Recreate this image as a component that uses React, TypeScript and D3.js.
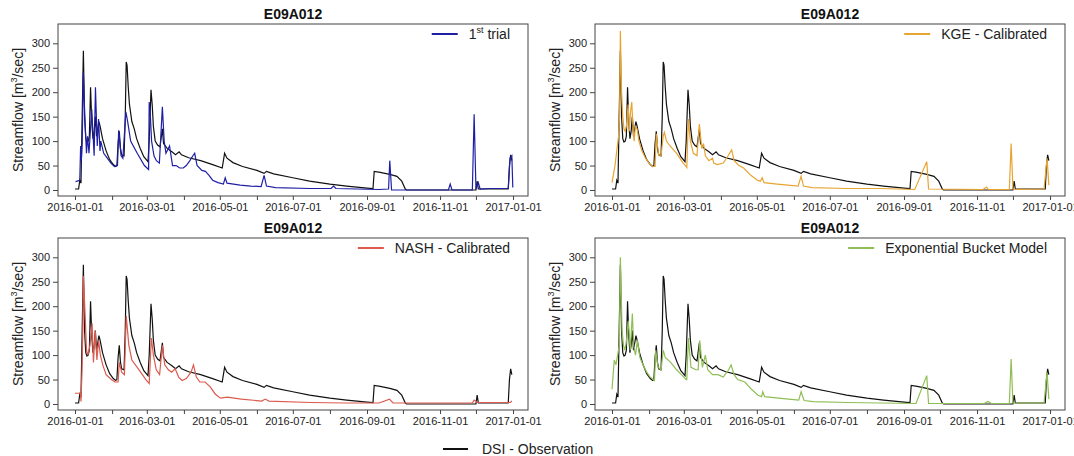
import React, { useEffect, useRef } from 'react';
import * as d3 from 'd3';

const width = 1074;
const height = 456;
const frame = { left: 58, top: 24, w: 470, h: 172 };
const colStep = 537;
const rowStep = 214;
const font = '"Liberation Sans", Arial, sans-serif';

// [days since 2016-01-01, streamflow m3/s]
const observation: [number, number][] = [
  [0, 2], [3, 2], [4, 20], [5, 14], [6, 150], [7, 285], [8, 150], [9, 105], [10, 98], [11, 100],
  [12, 110], [13, 210], [14, 140], [15, 105], [16, 120], [17, 150], [18, 110], [19, 125], [20, 140],
  [21, 130], [23, 105], [26, 80], [29, 62], [32, 52], [34, 48], [35, 50], [36, 95], [37, 120],
  [38, 85], [39, 72], [41, 70], [42, 150], [42.8, 262], [43.5, 255], [44.5, 210], [45.5, 175],
  [47.5, 140], [49.5, 125], [51.5, 105], [54.5, 85], [57.5, 68], [61, 58], [62, 100], [63.5, 205],
  [64.5, 175], [65.5, 130], [67, 100], [69, 92], [71, 88], [73, 125], [74, 95], [77, 85], [81, 78],
  [84, 72], [87, 78], [89, 72], [95, 66], [105, 60], [115, 52], [123, 45], [125, 75], [127, 65],
  [132, 56], [140, 48], [152, 40], [158, 34], [160, 38], [166, 33], [182, 25], [196, 18], [213, 12],
  [227, 8], [244, 4], [249, 3], [250, 38], [255, 36], [263, 32], [269, 28], [273, 18], [276, 2],
  [277, 0], [335, 0], [336, 18], [337, 2], [362, 2], [363, 50], [364, 72], [365, 60]
];

const firstTrial: [number, number][] = [
  [0.5, 17], [4, 20], [4.7, 90], [5.3, 60], [6, 95], [7, 240], [8.2, 150], [9.6, 75], [10.5, 110],
  [11.7, 75], [14, 165], [16, 70], [17.1, 210], [18.6, 90], [19.7, 145], [20.9, 80], [21.5, 100],
  [23, 85], [24, 75], [27, 65], [30, 55], [33, 48], [35.5, 50], [36.5, 122], [38.5, 70], [40, 65],
  [42.5, 160], [44, 140], [46.5, 100], [52, 75], [58, 50], [61, 43], [61.5, 42], [62, 180], [63, 150],
  [64, 100], [66, 70], [68, 60], [70.5, 55], [73, 170], [74.5, 100], [76, 75], [79, 90], [81.5, 50],
  [84.5, 50], [87.5, 45], [90.5, 45], [93, 50], [96, 60], [98.5, 70], [100, 75], [102, 50], [106, 40],
  [109, 38], [112, 30], [115, 20], [119.5, 15], [124, 12], [125.5, 25], [127, 14], [132.5, 12],
  [138, 10], [147, 8], [155.5, 7], [158, 30], [160, 8], [167.5, 5], [196, 3], [214, 3], [216, 8],
  [218, 3], [254, 1], [262, 2], [263, 60], [264.5, 0], [312, 0], [313.5, 12], [315, 0], [332, 0],
  [333.5, 155], [335, 2], [337, 15], [338.5, 2], [346, 3], [362, 3], [363.5, 65], [365, 70], [365.8, 5]
];

const kgeCalibrated: [number, number][] = [
  [0, 15], [2.5, 50], [4, 80], [5.5, 110], [6.3, 150], [7, 325], [8, 200], [9, 150], [10, 125],
  [11, 120], [12, 130], [13.5, 175], [14.5, 120], [15.5, 160], [16.5, 180], [17.5, 130], [18.5, 100],
  [19.5, 130], [21, 125], [22.5, 100], [25, 80], [28, 65], [31, 55], [34, 48], [36, 48], [37, 115],
  [39, 70], [41, 70], [42.8, 110], [43.8, 118], [45.5, 100], [48.5, 90], [54, 75], [59.5, 55],
  [62, 48], [62.5, 46], [63.8, 145], [65.5, 100], [68, 75], [71, 70], [73, 135], [75, 85], [76.5, 95],
  [78, 70], [81, 60], [84, 65], [85, 55], [88, 52], [93, 55], [97, 70], [100, 82], [102, 60],
  [106, 50], [110, 45], [116, 30], [121.5, 20], [124, 18], [125.5, 25], [127, 15], [138, 12],
  [155.5, 8], [158, 28], [160, 8], [167, 5], [196, 3], [224, 3], [253, 1], [263, 58], [264.5, 2],
  [310, 1], [313, 6], [314.5, 1], [332, 1], [333.5, 95], [335, 2], [344, 1], [361, 2], [363.5, 65],
  [365, 10]
];

const nashCalibrated: [number, number][] = [
  [0, 22], [4.5, 22], [5, 5], [5.9, 70], [6.5, 150], [7, 262], [8.5, 180], [9.6, 110], [10.8, 100],
  [12.5, 120], [14.3, 165], [15.4, 85], [16.9, 150], [18.3, 90], [19.7, 130], [21.2, 100], [23.2, 80],
  [26, 60], [30.4, 50], [33.3, 45], [36, 45], [37, 85], [39, 65], [41.3, 60], [42.8, 180], [45, 120],
  [47.5, 90], [52, 75], [56.3, 60], [59.2, 50], [62, 42], [63.8, 135], [65.5, 100], [67.9, 70],
  [70.7, 60], [73, 120], [75, 80], [78, 70], [80.8, 65], [83.7, 72], [86.6, 55], [89.5, 48], [93, 52],
  [97, 65], [99, 80], [101.4, 55], [104.3, 45], [108.6, 45], [113, 35], [117.3, 20], [121.6, 12],
  [127.4, 14], [133, 12], [138.9, 10], [156, 6], [159, 10], [162, 6], [196.5, 3], [225, 2], [254, 2],
  [262.8, 10], [265.7, 2], [332, 2], [333.5, 8], [336.4, 3], [363.7, 3], [365, 6]
];

const bucketModel: [number, number][] = [
  [0, 30], [1.9, 90], [3.3, 80], [4.7, 100], [6.1, 120], [7, 300], [8.4, 150], [9.6, 120],
  [10.7, 110], [11.9, 125], [13.6, 170], [15.3, 110], [17, 185], [18.1, 120], [19.6, 100],
  [21.3, 130], [23.3, 95], [26, 80], [29, 65], [31.9, 55], [35.5, 48], [36.5, 110], [38.5, 75],
  [41, 70], [42.8, 110], [44.5, 95], [49, 85], [54, 70], [58, 60], [62, 50], [62.5, 50], [63.8, 135],
  [66, 75], [70, 70], [72, 70], [73.3, 130], [75.5, 75], [78, 100], [80, 70], [84, 60], [88.5, 60],
  [93, 55], [97.5, 70], [99.5, 80], [102, 60], [105, 50], [111, 45], [116.5, 30], [122, 18],
  [125, 15], [126, 25], [127.5, 15], [139, 12], [156, 8], [158, 25], [160.5, 7], [168, 5], [196, 3],
  [254, 1], [263, 58], [264.5, 1], [311, 1], [314, 5], [317, 1], [332, 1], [333.5, 92], [335, 2],
  [344, 2], [361, 2], [363.5, 65], [365, 10]
];

const stationName = 'E09A012';
const yTicks = [0, 50, 100, 150, 200, 250, 300];
const obsLabel = 'DSI - Observation';

const panels = [
  { label: ['1', 'st', ' trial'], values: firstTrial, color: '#1f1fa6' },
  { label: ['KGE - Calibrated'], values: kgeCalibrated, color: '#e8a431' },
  { label: ['NASH - Calibrated'], values: nashCalibrated, color: '#dc5a4e' },
  { label: ['Exponential Bucket Model'], values: bucketModel, color: '#8fbe55' }
];

const base = Date.UTC(2016, 0, 1);
const toDate = (d: number) => new Date(base + d * 864e5);

export default function App() {
  const ref = useRef<SVGSVGElement>(null);

  useEffect(() => {
    const svg = d3.select(ref.current);
    svg.selectAll('*').remove();

    const months = d3.utcMonth.range(new Date(base), new Date(Date.UTC(2017, 0, 2)));
    const fmt = d3.utcFormat('%Y-%m-%d');

    panels.forEach((p, i) => {
      const left = frame.left + (i % 2) * colStep;
      const top = frame.top + Math.floor(i / 2) * rowStep;
      const right = left + frame.w;
      const bottom = top + frame.h;

      const x = d3.scaleUtc()
        .domain([toDate(-14.2), toDate(378.5)])
        .range([left, right]);
      const y = d3.scaleLinear()
        .domain([-12.3, 339.5])
        .range([bottom, top]);

      const g = svg.append('g');

      // x axis, monthly ticks, label every second month
      const xAxis = d3.axisBottom(x)
        .tickValues(months)
        .tickSize(4)
        .tickPadding(3)
        .tickFormat((d, k) => (k % 2 === 0 ? fmt(d as Date) : ''));
      const xg = g.append('g').attr('transform', `translate(0,${bottom})`).call(xAxis);

      const yAxis = d3.axisLeft(y).tickValues(yTicks).tickSize(5).tickPadding(3);
      const yg = g.append('g').attr('transform', `translate(${left},0)`).call(yAxis);

      [xg, yg].forEach(a => {
        a.select('.domain').remove();
        a.selectAll('line').attr('stroke', '#444');
        a.selectAll('text').attr('font-family', font).attr('font-size', 11).attr('fill', '#222');
      });

      const line = d3.line<[number, number]>()
        .x(d => x(toDate(d[0])))
        .y(d => y(d[1]));

      const clipId = `clip${i}`;
      g.append('clipPath').attr('id', clipId)
        .append('rect').attr('x', left).attr('y', top).attr('width', frame.w).attr('height', frame.h);

      const plot = g.append('g').attr('clip-path', `url(#${clipId})`);
      plot.append('path')
        .attr('d', line(observation))
        .attr('fill', 'none')
        .attr('stroke', '#111')
        .attr('stroke-width', 1.2);
      plot.append('path')
        .attr('d', line(p.values))
        .attr('fill', 'none')
        .attr('stroke', p.color)
        .attr('stroke-width', 1.2);

      g.append('rect')
        .attr('x', left).attr('y', top)
        .attr('width', frame.w).attr('height', frame.h)
        .attr('fill', 'none')
        .attr('stroke', '#444')
        .attr('stroke-width', 1);

      // title
      g.append('text')
        .attr('x', (left + right) / 2)
        .attr('y', top - 5)
        .attr('text-anchor', 'middle')
        .attr('font-family', font)
        .attr('font-weight', 'bold')
        .attr('font-size', 14)
        .attr('fill', '#111')
        .text(stationName);

      // y label
      const yl = g.append('text')
        .attr('transform', `translate(${left - 35},${(top + bottom) / 2}) rotate(-90)`)
        .attr('text-anchor', 'middle')
        .attr('font-family', font)
        .attr('font-size', 14)
        .attr('fill', '#222');
      yl.append('tspan').text('Streamflow [m');
      yl.append('tspan').attr('font-size', 9).attr('dy', -6).text('3');
      yl.append('tspan').attr('dy', 6).text('/sec]');

      // legend, right aligned
      const lt = g.append('text')
        .attr('x', right - 18)
        .attr('y', top + 15)
        .attr('text-anchor', 'end')
        .attr('font-family', font)
        .attr('font-size', 14)
        .attr('fill', '#222');
      if (p.label.length === 3) {
        lt.append('tspan').text(p.label[0]);
        lt.append('tspan').attr('font-size', 9).attr('dy', -6).text(p.label[1]);
        lt.append('tspan').attr('dy', 6).text(p.label[2]);
      } else {
        lt.text(p.label[0]);
      }
      const tw = (lt.node() as SVGTextElement).getComputedTextLength();
      const tx = right - 18 - tw;
      g.append('line')
        .attr('x1', tx - 37).attr('x2', tx - 11)
        .attr('y1', top + 10).attr('y2', top + 10)
        .attr('stroke', p.color)
        .attr('stroke-width', 2);
    });

    // shared legend at the bottom
    svg.append('line')
      .attr('x1', 443).attr('x2', 468)
      .attr('y1', 449).attr('y2', 449)
      .attr('stroke', '#111')
      .attr('stroke-width', 2);
    svg.append('text')
      .attr('x', 482)
      .attr('y', 454)
      .attr('font-family', font)
      .attr('font-size', 14)
      .attr('fill', '#222')
      .text(obsLabel);
  }, []);

  return (
    <svg
      ref={ref}
      width={width}
      height={height}
      style={{ position: 'absolute', left: 0, top: 0, background: '#fff' }}
    />
  );
}
